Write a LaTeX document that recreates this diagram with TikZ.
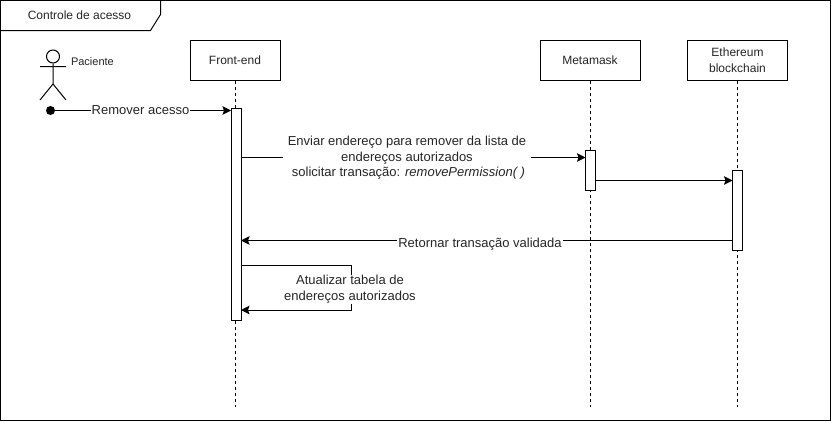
\documentclass[tikz,border=0pt]{standalone}
\usepackage{fontspec}
\setmainfont{Liberation Sans}
\usetikzlibrary{arrows.meta}
\tikzset{
  every node/.style={inner sep=0pt,outer sep=0pt,text=black!85,font=\fontsize{12}{15.6}\selectfont},
  lifebox/.style={draw=black,fill=white,line width=1pt,minimum height=40pt,align=center},
  actbox/.style={draw=black,fill=white,line width=1pt,minimum width=10pt},
  lifeline/.style={draw=black,line width=1pt,dash pattern=on 3pt off 3pt},
  msg/.style={draw=black,line width=1pt,-{Stealth[length=8.5pt,width=8.5pt,inset=1.5pt]}},
  msglabel/.style={fill=white,align=center,inner xsep=1pt,inner ysep=0pt},
  outline/.style={draw=black,line width=1pt}
}
\begin{document}
\begin{tikzpicture}[x=1pt,y=-1pt]
\useasboundingbox (0,0) rectangle (831,421);
\fill[white] (0,0) rectangle (831,421);
% frame
\draw[outline] (0.5,0.5) rectangle (830.5,420);
\draw[outline] (0.5,30.5) -- (150.5,30.5) -- (160.5,14.5) -- (160.5,0.5);
\node (title) at (79.5,15) {Controle de acesso};
% heads
\node[lifebox,minimum width=90pt] (fe) at (235,60.5) {\raisebox{1pt}{Front-end}};
\node[lifebox,minimum width=100pt] (mm) at (590,60.5) {Metamask};
\node[lifebox,minimum width=100pt] (eth) at (737.5,60.5) {Ethereum\\blockchain};
% lifelines
\coordinate (feend) at (235,407);
\coordinate (mmend) at (590,407);
\coordinate (ethend) at (737.5,407);
\draw[lifeline] (fe.south) -- (feend);
\draw[lifeline] (mm.south) -- (mmend);
\draw[lifeline] (eth.south) -- (ethend);
% activations
\node[actbox,minimum height=212pt] (afe) at (236,214.5) {};
\node[actbox,minimum height=40pt] (amm) at (590.5,170.5) {};
\node[actbox,minimum height=80pt] (aeth) at (737.5,210.5) {};
% actor
\draw[line width=1pt,draw=black] (53,63.5) -- (53,84) (40,66.5) -- (66,66.5) (40,100) -- (53,84) -- (66,100);
\node[draw=black,line width=1pt,circle,minimum size=13pt,fill=white] (head) at (53,56.5) {};
\node[font=\fontsize{11}{13}\selectfont,anchor=west] (pac) at (71,61.5) {Paciente};
% start dot and first message
\node[circle,fill=black,minimum size=9pt] (start) at (50.5,110.5) {};
\draw[msg] (start.center) -- (afe.west |- start.center);
\node[msglabel,font=\fontsize{13}{15}\selectfont] (l1) at (140.5,110.5) {Remover acesso};
% message 2
\coordinate (m2s) at (afe.east |- 0,157.5);
\coordinate (m2e) at (amm.west |- 0,157.5);
\draw[msg] (m2s) -- (m2e);
\node[msglabel,font=\fontsize{13}{15.6}\selectfont,inner xsep=5pt] (l2) at (407,158)
  {Enviar endereço para remover da lista de\\endereços autorizados\\\hspace{3pt}solicitar transação: \textit{removePermission( )}};
% message 3
\coordinate (m3s) at (amm.east |- 0,180.5);
\coordinate (m3e) at (aeth.west |- 0,180.5);
\draw[msg] (m3s) -- (m3e);
% return
\coordinate (m4s) at (aeth.west |- 0,240.5);
\coordinate (m4e) at (afe.east |- 0,240.5);
\draw[msg] (m4s) -- (m4e);
\node[msglabel,font=\fontsize{13}{15}\selectfont] (l4) at (480,244.5) {Retornar transação validada};
% self
\coordinate (m5s) at (afe.east |- 0,265);
\coordinate (m5a) at (351,265);
\coordinate (m5b) at (351,310);
\coordinate (m5e) at (afe.east |- 0,310);
\draw[msg] (m5s) -- (m5a) -- (m5b) -- (m5e);
\node[msglabel,font=\fontsize{13}{16}\selectfont] (l5) at (350,289.5) {Atualizar tabela de\\endereços autorizados};
\end{tikzpicture}
\end{document}
